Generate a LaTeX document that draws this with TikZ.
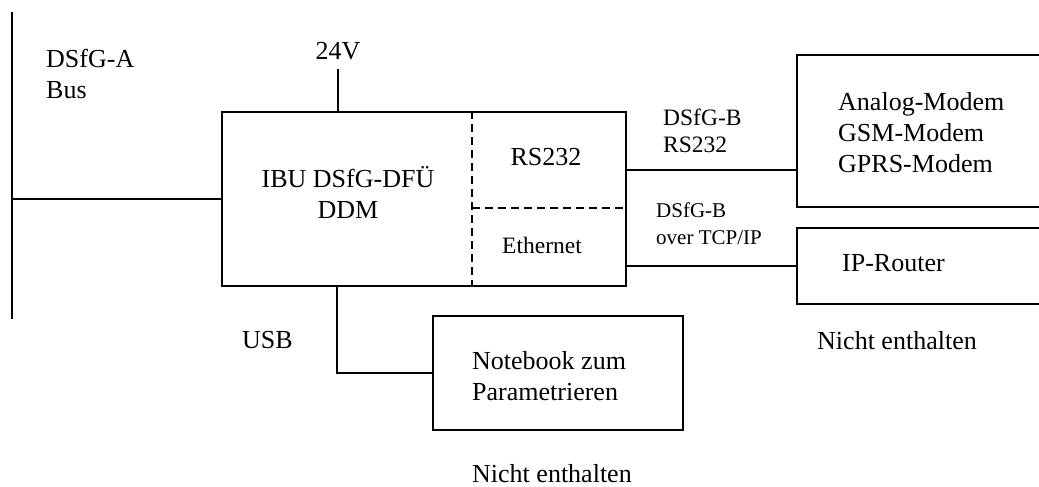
\documentclass[tikz,border=0pt]{standalone}
\usepackage{fontspec}
\setmainfont{Liberation Serif}
\usetikzlibrary{positioning}

\begin{document}
\begin{tikzpicture}[
		x=1bp, y=-1bp,
		box/.style		={ draw, line width=1.8bp, inner sep=0pt },
		wire/.style		={ line width=1.8bp },
		sepline/.style	={ line width=1.8bp, dash pattern=on 8bp off 5bp },
		lbl/.style		={ inner sep=0pt, align=left,
			font=\fontsize{26bp}{31bp}\selectfont
		},
		lblmid/.style	={ lbl, font=\fontsize{23.5bp}{27bp}\selectfont },
		lblsmall/.style	={ lbl, font=\fontsize{21bp}{27bp}\selectfont },
	]

	% page frame
	\clip (0,0) rectangle (1039,487);
	\fill [white] (0,0) rectangle (1039,487);

	% declare boxes and free ends
	\node (ddm) [box, minimum width=404bp, minimum height=174bp] at (424,199) {};
	\node (modem) [box, minimum width=264bp, minimum height=152bp] at (929,131) {};
	\node (router) [box, minimum width=264bp, minimum height=76bp] at (929,266) {};
	\node (notebook) [box, minimum width=250bp, minimum height=114bp] at (558,373) {};
	\coordinate (bustop) at (12,12);
	\coordinate (busbot) at (12,319);
	\coordinate (v24) at (338,69);
	\coordinate (rsout) at (626,170);
	\coordinate (usb) at (337,285);
	\coordinate (split) at (472,208);

	% split the ddm box
	\draw [sepline] (split |- ddm.north) -- (split |- ddm.south);
	\draw [sepline] (split) -- (split -| ddm.east);

	% draw wires
	\draw [wire] (bustop) -- (busbot);
	\draw [wire] (ddm.west) -- (ddm.west -| bustop);
	\draw [wire] (v24) -- (v24 |- ddm.north);
	\draw [wire] (rsout) -- (rsout -| modem.west);
	\draw [wire] (router.west) -- (router.west -| ddm.east);
	\draw [wire] (usb |- ddm.south) |- (notebook.west);

	% labels
	\node (bustext) [lbl, anchor=west] at (46,74) {DSfG-A\\Bus};
	\node (t24) [lbl, above=9bp of v24] {24V};
	\node (ddmtext) [lbl, align=center] at (348,192) {IBU DSfG-DFÜ\\DDM};
	\node (rstext) [lbl] at (546,157) {RS232};
	\node (ethtext) [lblmid] at (542,245) {Ethernet};
	\node (rsbus) [lblmid, anchor=west] at (663,131) {DSfG-B\\RS232};
	\node (tcpbus) [lblsmall, anchor=west] at (656,223.5) {DSfG-B\\over TCP/IP};
	\node (modemtext) [lbl, anchor=west] at (838,133) {Analog-Modem\\GSM-Modem\\GPRS-Modem};
	\node (routertext) [lbl, anchor=west] at (842,263) {IP-Router};
	\node (note1) [lbl, anchor=west] at (817,341) {Nicht enthalten};
	\node (usbtext) [lbl, anchor=west] at (242,340) {USB};
	\node (nbtext) [lbl, anchor=west] at (472,376) {Notebook zum\\Parametrieren};
	\node (note2) [lbl, anchor=west] at (472,474) {Nicht enthalten};

\end{tikzpicture}
\end{document}
